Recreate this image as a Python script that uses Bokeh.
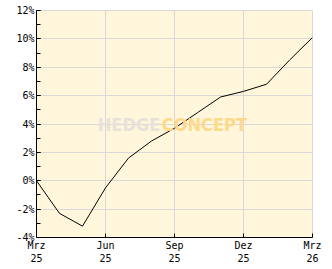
from bokeh.plotting import figure
from bokeh.models import FixedTicker, Label, Range1d
from bokeh.embed import file_html
from bokeh.resources import INLINE

months = list(range(13))
values = [0.0, -2.3, -3.2, -0.5, 1.6, 2.8, 3.7, 4.8, 5.9, 6.3, 6.8, 8.5, 10.1]
x_ticks = [0, 3, 6, 9, 12]
x_labels = ["Mrz\n25", "Jun\n25", "Sep\n25", "Dez\n25", "Mrz\n26"]
y_ticks = [-4, -2, 0, 2, 4, 6, 8, 10, 12]
y_labels = ["-4%", "-2%", "0%", "2%", "4%", "6%", "8%", "10%", "12%"]

p = figure(width=332, height=269, output_backend="svg", toolbar_location=None,
           x_range=Range1d(0, 12), y_range=Range1d(-4, 12),
           min_border_left=36, min_border_right=20, min_border_top=10, min_border_bottom=32)
p.background_fill_color = "#fff6dc"
p.border_fill_color = "white"
p.outline_line_color = "#d8d8d8"
p.outline_line_width = 1

p.xaxis.ticker = FixedTicker(ticks=x_ticks)
p.xaxis.major_label_overrides = {t: l for t, l in zip(x_ticks, x_labels)}
p.yaxis.ticker = FixedTicker(ticks=y_ticks, minor_ticks=list(range(-4, 13)))
p.yaxis.major_label_overrides = {t: l for t, l in zip(y_ticks, y_labels)}

for ax in (p.xaxis[0], p.yaxis[0]):
    ax.axis_line_color = "black"
    ax.major_tick_in = 4
    ax.major_tick_out = 0
    ax.minor_tick_in = 4
    ax.minor_tick_out = 0
    ax.major_label_text_font = "DejaVu Sans Mono"
    ax.major_label_text_font_size = "10px"
    ax.major_label_text_color = "black"
    ax.major_label_standoff = 2
p.xaxis.minor_tick_line_color = None
p.xgrid.ticker = FixedTicker(ticks=x_ticks)
p.ygrid.ticker = FixedTicker(ticks=y_ticks)
p.grid.grid_line_color = "#d8d8d8"

p.add_layout(Label(x=5.38, y=4, text="HEDGE", text_font="DejaVu Sans Condensed",
                   text_font_style="bold", text_font_size="18px", text_color="#e6e2da",
                   text_align="right", text_baseline="middle"))
p.add_layout(Label(x=5.45, y=4, text="CONCEPT", text_font="DejaVu Sans Condensed",
                   text_font_style="bold", text_font_size="18px", text_color="#ffd98a",
                   text_align="left", text_baseline="middle"))

p.line(months, values, line_color="black", line_width=1)

open("out.html", "w").write(file_html(p, INLINE))
